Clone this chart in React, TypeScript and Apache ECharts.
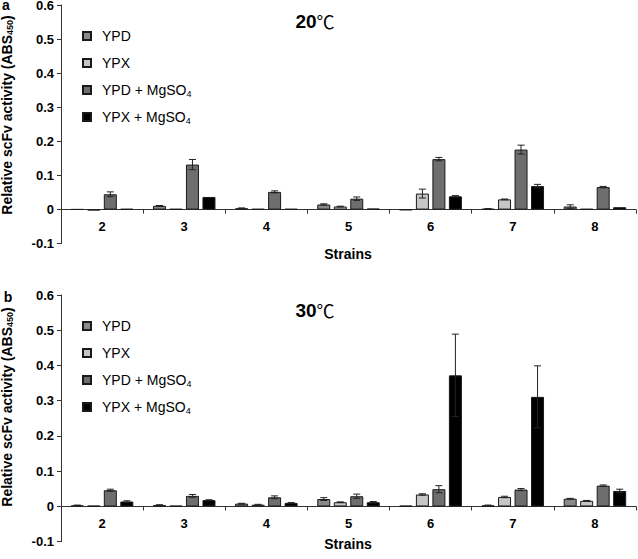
import React, { useEffect, useRef } from 'react';
import * as echarts from 'echarts';

const categories = ['2', '3', '4', '5', '6', '7', '8'];
const seriesNames = ['YPD', 'YPX', 'YPD + MgSO4', 'YPX + MgSO4'];
const seriesColors = ['#8a8a8a', '#c6c6c6', '#6e6e6e', '#000000'];
const panelTitles = ['20', '30'];
const panelLetters = ['a', 'b'];
const yMin = -0.1;
const yMax = 0.6;
const yInterval = 0.1;

// 20 °C
const ypd20 = [0.001, 0.011, 0.004, 0.015, -0.001, 0.002, 0.009];
const ypx20 = [-0.002, 0.002, 0.002, 0.009, 0.047, 0.03, 0.002];
const ypdMg20 = [0.045, 0.132, 0.052, 0.032, 0.148, 0.176, 0.066];
const ypxMg20 = [0.002, 0.037, 0.002, 0.003, 0.039, 0.069, 0.007];
const ypd20Err = [0, 0.001, 0.001, 0.002, 0, 0.001, 0.005];
const ypx20Err = [0, 0, 0, 0.001, 0.013, 0.001, 0];
const ypdMg20Err = [0.007, 0.015, 0.003, 0.005, 0.005, 0.013, 0.002];
const ypxMg20Err = [0, 0, 0, 0, 0.002, 0.005, 0];

// 30 °C
const ypd30 = [0.003, 0.004, 0.008, 0.021, 0.002, 0.003, 0.022];
const ypx30 = [0.002, 0.002, 0.005, 0.012, 0.034, 0.027, 0.016];
const ypdMg30 = [0.046, 0.03, 0.026, 0.029, 0.049, 0.048, 0.059];
const ypxMg30 = [0.014, 0.018, 0.01, 0.012, 0.372, 0.311, 0.044];
const ypd30Err = [0.001, 0.001, 0.001, 0.004, 0, 0.001, 0.001];
const ypx30Err = [0, 0, 0.001, 0.001, 0.002, 0.002, 0.001];
const ypdMg30Err = [0.003, 0.004, 0.004, 0.006, 0.01, 0.003, 0.002];
const ypxMg30Err = [0.002, 0.001, 0.001, 0.002, 0.117, 0.088, 0.005];

const panelValues = [
  [ypd20, ypx20, ypdMg20, ypxMg20],
  [ypd30, ypx30, ypdMg30, ypxMg30],
];
const panelErrors = [
  [ypd20Err, ypx20Err, ypdMg20Err, ypxMg20Err],
  [ypd30Err, ypx30Err, ypdMg30Err, ypxMg30Err],
];

const FONT = "'Liberation Sans', Arial, sans-serif";
const BAR_W = 13;
const GAP_PX = 3.5;
const STEP = BAR_W + GAP_PX;

const grids = [
  { left: 61, top: 5, width: 575, height: 238.7, outerBoundsMode: 'none', containLabel: false },
  { left: 61, top: 295, width: 575, height: 246.7, outerBoundsMode: 'none', containLabel: false },
];
const layout = [
  { legendTop: 28, letterY: 5, letterX: 6, yTitleY: 115, titleY: 21, strainsY: 254, labelMargin: -23.5 },
  { legendTop: 318, letterY: 297, letterX: 8, yTitleY: 407, titleY: 310, strainsY: 544, labelMargin: -25 },
];

function buildOption() {
  const series: any[] = [];
  for (let g = 0; g < 2; g++) {
    for (let i = 0; i < 4; i++) {
      series.push({
        type: 'bar',
        name: seriesNames[i],
        xAxisIndex: g,
        yAxisIndex: g,
        data: panelValues[g][i],
        barWidth: BAR_W,
        barGap: `${(GAP_PX / BAR_W) * 100}%`,
        itemStyle: { color: seriesColors[i], borderColor: '#1a1a1a', borderWidth: 1 },
        z: 2,
      });
    }
    for (let i = 0; i < 4; i++) {
      const off = (i - 1.5) * STEP;
      series.push({
        type: 'custom',
        name: 'err' + g + '_' + i,
        xAxisIndex: g,
        yAxisIndex: g,
        silent: true,
        z: 4,
        encode: { x: 0, y: 1 },
        data: panelValues[g][i].map((v, k) => [k, v, panelErrors[g][i][k]]),
        renderItem: (params: any, api: any) => {
          const k = api.value(0);
          const v = api.value(1);
          const e = api.value(2);
          if (!e) return null;
          const top = api.coord([k, v + e]);
          const bot = api.coord([k, v - e]);
          const cx = top[0] + off;
          const style = { stroke: '#222', lineWidth: 1 };
          return {
            type: 'group',
            children: [
              { type: 'line', shape: { x1: cx, y1: top[1], x2: cx, y2: bot[1] }, style },
              { type: 'line', shape: { x1: cx - 3.5, y1: top[1], x2: cx + 3.5, y2: top[1] }, style },
              { type: 'line', shape: { x1: cx - 3.5, y1: bot[1], x2: cx + 3.5, y2: bot[1] }, style },
            ],
          };
        },
      });
    }
  }

  const legendFormatter = (name: string) => name.replace('MgSO4', 'MgSO{sub|4}');

  const graphic: any[] = [];
  for (let g = 0; g < 2; g++) {
    const L = layout[g];
    graphic.push({
      type: 'text',
      x: L.letterX,
      y: L.letterY,
      style: {
        text: panelLetters[g],
        fontSize: 14,
        fontWeight: 'bold',
        fontFamily: FONT,
        lineHeight: 10,
        fill: '#000',
        align: 'center',
        verticalAlign: 'middle',
        textAlign: 'center',
        textVerticalAlign: 'middle',
      },
    });
    graphic.push({
      type: 'text',
      x: 7,
      y: L.yTitleY,
      rotation: Math.PI / 2,
      style: {
        text: '{t|Relative scFv activity (ABS}{s|450}{t|)}',
        fontFamily: FONT,
        fill: '#000',
        align: 'center',
        verticalAlign: 'middle',
        textAlign: 'center',
        textVerticalAlign: 'middle',
        rich: {
          t: { fontSize: 14, fontWeight: 'bold', fontFamily: FONT, lineHeight: 14, fill: '#000' },
          s: { fontSize: 9, fontWeight: 'bold', fontFamily: FONT, lineHeight: 9, verticalAlign: 'bottom', fill: '#000' },
        },
      },
    });
    graphic.push({
      type: 'text',
      x: 315,
      y: L.titleY,
      style: {
        text: '{n|' + panelTitles[g] + '}{c|℃}',
        fill: '#000',
        align: 'center',
        verticalAlign: 'middle',
        textAlign: 'center',
        textVerticalAlign: 'middle',
        rich: {
          n: { fontSize: 19, fontWeight: 'bold', fontFamily: FONT, lineHeight: 22, fill: '#000' },
          c: { fontSize: 18, fontWeight: 'normal', fontFamily: "'Noto Sans CJK SC', 'DejaVu Sans', sans-serif", lineHeight: 22, fill: '#000' },
        },
      },
    });
    graphic.push({
      type: 'text',
      x: 348,
      y: L.strainsY,
      style: {
        text: 'Strains',
        fontSize: 14,
        fontWeight: 'bold',
        fontFamily: FONT,
        fill: '#000',
        align: 'center',
        verticalAlign: 'middle',
        textAlign: 'center',
        textVerticalAlign: 'middle',
      },
    });
  }

  return {
    animation: false,
    backgroundColor: '#fff',
    grid: grids,
    xAxis: [0, 1].map((g) => ({
      type: 'category',
      gridIndex: g,
      data: categories,
      axisLine: { show: true, onZero: true, lineStyle: { color: '#333', width: 1 } },
      axisTick: { show: true, alignWithLabel: false, length: 4, lineStyle: { color: '#333' } },
      axisLabel: {
        fontSize: 13,
        fontWeight: 'bold',
        fontFamily: FONT,
        color: '#000',
        margin: layout[g].labelMargin,
      },
      splitLine: { show: false },
    })),
    yAxis: [0, 1].map((g) => ({
      type: 'value',
      gridIndex: g,
      min: yMin,
      max: yMax,
      interval: yInterval,
      axisLine: { show: true, lineStyle: { color: '#333', width: 1 } },
      axisTick: { show: true, length: 4, lineStyle: { color: '#333' } },
      axisLabel: {
        fontSize: 13,
        fontWeight: 'bold',
        fontFamily: FONT,
        color: '#000',
        margin: 7,
        lineHeight: 10,
        formatter: (v: number) => String(Math.round(v * 10) / 10),
      },
      splitLine: { show: false },
    })),
    legend: [0, 1].map((g) => ({
      data: seriesNames,
      orient: 'vertical',
      left: 82,
      top: layout[g].legendTop,
      padding: 0,
      itemWidth: 8,
      itemHeight: 8,
      itemGap: 11,
      icon: 'rect',
      selectedMode: false,
      formatter: legendFormatter,
      textStyle: {
        fontSize: 14,
        fontFamily: FONT,
        color: '#000',
        lineHeight: 16,
        padding: [0, 0, 0, 6],
        rich: {
          sub: { fontSize: 9, fontFamily: FONT, lineHeight: 10, verticalAlign: 'bottom', color: '#000' },
        },
      },
    })),
    graphic,
    series,
  };
}

export default function App() {
  const ref = useRef<HTMLDivElement>(null);
  useEffect(() => {
    const chart = echarts.init(ref.current as HTMLDivElement, null, { renderer: 'svg' });
    chart.setOption(buildOption() as any);
    return () => chart.dispose();
  }, []);
  return <div ref={ref} style={{ position: 'absolute', left: 0, top: 0, width: 638, height: 559 }} />;
}
